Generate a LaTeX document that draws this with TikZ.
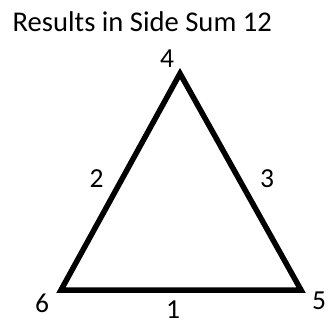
\documentclass[tikz,border=0pt]{standalone}
\usepackage{fontspec}
\setmainfont{Carlito}
\begin{document}
\begin{tikzpicture}[x=1pt,y=-1pt,
  lbl/.style={inner sep=0pt,anchor=base,font=\fontsize{27.5}{30}\selectfont},
  edge/.style={line width=5.5pt,line join=miter,black}]
\useasboundingbox (0,0) rectangle (328,324);
\node[lbl,anchor=base west,font=\fontsize{28.6}{31}\selectfont] (title) at (12.5,31.5) {Results in Side Sum 12};
\coordinate (A) at (180,73.5);
\coordinate (B) at (61,290);
\coordinate (C) at (301,290);
\draw[edge] (A) -- (C) -- (B) -- cycle;
\node[lbl] (n4) at (167,67) {4};
\node[lbl] (n2) at (96.5,187) {2};
\node[lbl] (n3) at (267,187) {3};
\node[lbl] (n6) at (42,312.5) {6};
\node[lbl] (n5) at (319,309) {5};
\node[lbl] (n1) at (173,318.5) {1};
\end{tikzpicture}
\end{document}
